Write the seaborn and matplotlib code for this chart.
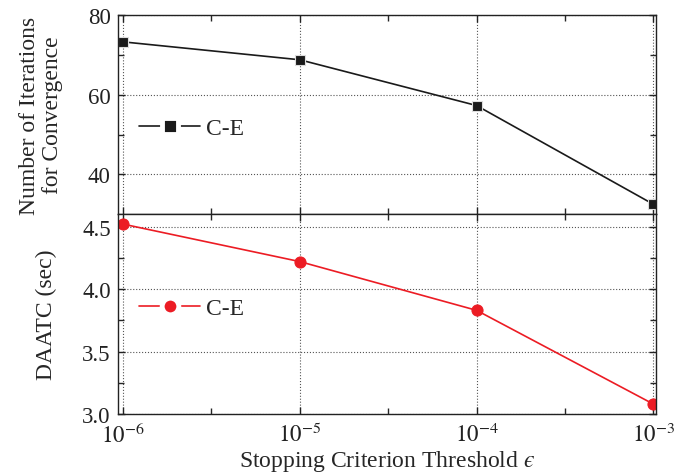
import matplotlib
matplotlib.use("Agg")
import pandas as pd
import matplotlib.pyplot as plt
import matplotlib.ticker as mticker
import seaborn as sns

# values
thresholds = [1e-6, 1e-5, 1e-4, 1e-3]
iterations = [73.3, 68.8, 57.3, 32.5]
daatc = [4.52, 4.22, 3.83, 3.08]
x_ticks = [1e-6, 1e-5, 1e-4, 1e-3]
x_ticklabels = [r"$10^{-6}$", r"$10^{-5}$", r"$10^{-4}$", r"$10^{-3}$"]

sns.set_theme(style="ticks")
plt.rcParams.update({
    "font.family": ["Liberation Serif", "DejaVu Serif"],
    "mathtext.fontset": "stix",
    "font.size": 16,
    "xtick.direction": "in",
    "ytick.direction": "in",
    "xtick.top": True,
    "ytick.right": True,
    "axes.edgecolor": "#222222",
    "axes.linewidth": 1.0,
})

df_it = pd.DataFrame({"eps": thresholds, "val": iterations, "series": "C-E"})
df_t = pd.DataFrame({"eps": thresholds, "val": daatc, "series": "C-E"})

fig = plt.figure(figsize=(6.97, 4.77), dpi=100)
ax1 = fig.add_axes([0.169, 0.549, 0.772, 0.417])
ax2 = fig.add_axes([0.169, 0.130, 0.772, 0.419], sharex=ax1)

sns.lineplot(data=df_it, x="eps", y="val", hue="series", palette=["#1a1a1a"],
             marker="s", markersize=7, markeredgecolor="#dddddd", markeredgewidth=0.8,
             linewidth=1.2, ax=ax1)
sns.lineplot(data=df_t, x="eps", y="val", hue="series", palette=["#ec1c24"],
             marker="o", markersize=8, markeredgecolor="#ec1c24", linewidth=1.2, ax=ax2)

for ax in (ax1, ax2):
    ax.set_xscale("log")
    ax.set_xlim(10 ** -6.03, 10 ** -2.985)
    ax.xaxis.set_major_locator(mticker.FixedLocator(x_ticks))
    ax.xaxis.set_minor_locator(mticker.FixedLocator([10 ** -5.5, 10 ** -4.5, 10 ** -3.5]))
    ax.tick_params(axis="both", which="major", length=5, width=1, labelsize=16.5, colors="#222222")
    ax.tick_params(axis="both", which="minor", length=4, width=1)
    ax.tick_params(axis="x", which="both", top=True, bottom=True, pad=6)
    ax.tick_params(axis="y", which="major", pad=5)
    ax.grid(True, which="major", linestyle=":", color="#555555", linewidth=0.8)
    ax.set_xlabel("")


def add_legend(ax, y):
    leg = ax.legend(loc="center left", bbox_to_anchor=(0.0, y), frameon=False,
                    fontsize=17, handlelength=2.6, handletextpad=0.25)
    for h in leg.legend_handles:
        h.set_markeredgecolor("white")
        h.set_markeredgewidth(3.5)
        h.set_markersize(11 if h.get_marker() == "s" else 12)


add_legend(ax1, 0.43)
add_legend(ax2, 0.53)

ax1.set_ylim(30, 80)
ax1.yaxis.set_major_locator(mticker.FixedLocator([40, 60, 80]))
ax1.yaxis.set_minor_locator(mticker.FixedLocator([50, 70]))
ax1.set_ylabel("Number of Iterations\nfor Convergence", fontsize=17, linespacing=1.15, labelpad=18)
ax1.tick_params(axis="x", which="both", labelbottom=False)

ax2.set_ylim(3.0, 4.6)
ax2.yaxis.set_major_locator(mticker.FixedLocator([3.0, 3.5, 4.0, 4.5]))
ax2.yaxis.set_major_formatter(mticker.FormatStrFormatter("%.1f"))
ax2.yaxis.set_minor_locator(mticker.FixedLocator([3.25, 3.75, 4.25]))
ax2.set_xticklabels(x_ticklabels)
ax2.set_ylabel("DAATC (sec)", fontsize=17, labelpad=18)
ax2.set_xlabel("Stopping Criterion Threshold $\u03f5$", fontsize=17, labelpad=1)

fig.savefig("out.png", dpi=100)
plt.close(fig)
